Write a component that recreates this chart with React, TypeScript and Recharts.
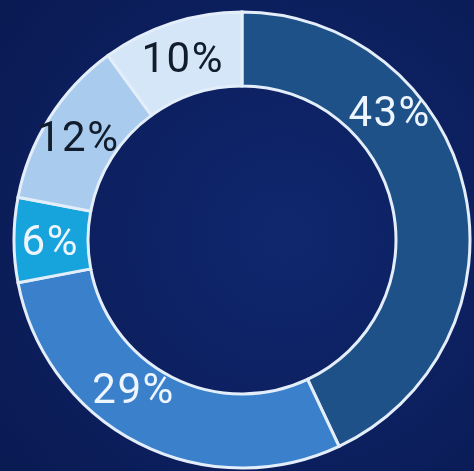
import { Cell, Pie, PieChart } from "recharts";

const categories = ["A", "B", "C", "D", "E"];
const shares = [43, 29, 6, 12, 10];
const sliceColors = ["#1f5189", "#3a80cb", "#17a4dc", "#a9ccee", "#d5e6f8"];
const labelColors = ["#eef5ff", "#eef5ff", "#eef5ff", "#111c2c", "#111c2c"];
// where each label sits: along the slice (0 = start, 1 = end) and across the ring (0 = inner, 1 = outer)
const labelSpot = [0.317, 0.588, 0.5, 0.5, 0.5];
const labelDepth = [0.56, 0.4, 0.51, 0.54, 0.51];

const data = categories.map((name, i) => ({ name, value: shares[i] }));

const RADIAN = Math.PI / 180;

function renderLabel(props: any) {
  const { cx, cy, startAngle, endAngle, innerRadius, outerRadius, index, value } = props;
  const angle = startAngle + labelSpot[index] * (endAngle - startAngle);
  const r = innerRadius + labelDepth[index] * (outerRadius - innerRadius);
  const x = cx + r * Math.cos(angle * RADIAN);
  const y = cy - r * Math.sin(angle * RADIAN);
  return (
    <text
      x={x}
      y={y}
      fill={labelColors[index]}
      fontFamily="Roboto, sans-serif"
      fontSize={42}
      letterSpacing={1.5}
      textAnchor="middle"
      dominantBaseline="central"
    >
      {`${value}%`}
    </text>
  );
}

export default function App() {
  return (
    <div
      style={{
        position: "fixed",
        top: 0,
        left: 0,
        width: 474,
        height: 471,
        background: "radial-gradient(circle at 60% 50%, #10276e 0%, #0c1f5e 60%, #0a1a52 100%)",
      }}
    >
      <PieChart width={474} height={471} margin={{ top: 0, right: 0, bottom: 0, left: 0 }}>
        <Pie
          data={data}
          dataKey="value"
          nameKey="name"
          cx={242}
          cy={240}
          innerRadius={154}
          outerRadius={228}
          startAngle={90}
          endAngle={-270}
          stroke="#e4eefa"
          strokeWidth={3}
          label={renderLabel}
          labelLine={false}
          isAnimationActive={false}
        >
          {data.map((entry, i) => (
            <Cell key={entry.name} fill={sliceColors[i]} />
          ))}
        </Pie>
      </PieChart>
    </div>
  );
}
